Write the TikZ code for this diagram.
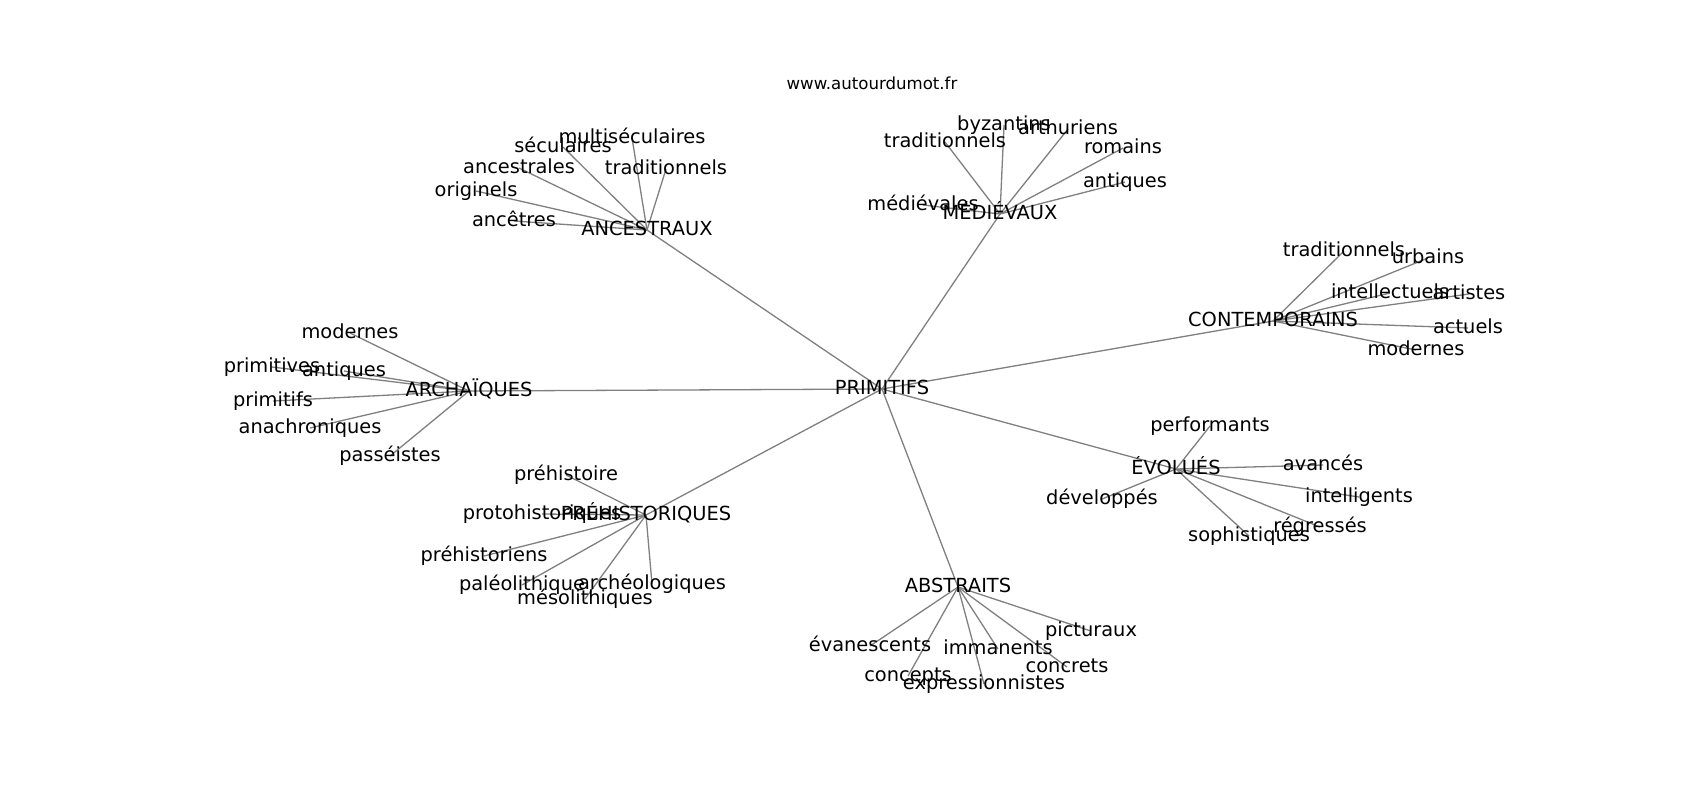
\documentclass[tikz,border=0pt]{standalone}
\usepackage{fontspec}
\setmainfont{DejaVu Sans}
\usetikzlibrary{backgrounds}
\tikzset{
  lbl/.style={inner sep=0pt, anchor=center, text height=0.76em, text depth=0.23em, font=\fontsize{9.7pt}{11pt}\selectfont},
  ttl/.style={inner sep=0pt, anchor=center, font=\fontsize{8.3pt}{10pt}\selectfont},
  edge/.style={draw=gray, line width=0.65pt}
}
\begin{document}
\begin{tikzpicture}[x=0.5pt,y=-0.5pt]
\useasboundingbox (0,0) rectangle (1700,800);
\node[ttl] (title) at (872,83) {www.autourdumot.fr};
% centre
\node[lbl] (P) at (882,389) {PRIMITIFS};
% hubs
\node[lbl] (ANC) at (647,230) {ANCESTRAUX};
\node[lbl] (MED) at (1000,214) {MÉDIÉVAUX};
\node[lbl] (CON) at (1273,321) {CONTEMPORAINS};
\node[lbl] (ARC) at (469,391) {ARCHAÏQUES};
\node[lbl] (PRE) at (646,515) {PRÉHISTORIQUES};
\node[lbl] (ABS) at (958,587) {ABSTRAITS};
\node[lbl] (EVO) at (1176,469) {ÉVOLUÉS};
% ancestraux
\node[lbl] (a1) at (632,138) {multiséculaires};
\node[lbl] (a2) at (563,147) {séculaires};
\node[lbl] (a3) at (519,168) {ancestrales};
\node[lbl] (a4) at (666,169) {traditionnels};
\node[lbl] (a5) at (476,191) {originels};
\node[lbl] (a6) at (514,221) {ancêtres};
% medievaux
\node[lbl] (m1) at (923,205) {médiévales};
\node[lbl] (m2) at (945,142) {traditionnels};
\node[lbl] (m3) at (1004,125) {byzantins};
\node[lbl] (m4) at (1068,129) {arthuriens};
\node[lbl] (m5) at (1123,148) {romains};
\node[lbl] (m6) at (1125,182) {antiques};
% contemporains
\node[lbl] (c1) at (1344,251) {traditionnels};
\node[lbl] (c2) at (1428,258) {urbains};
\node[lbl] (c3) at (1390,293) {intellectuels};
\node[lbl] (c4) at (1469,294) {artistes};
\node[lbl] (c5) at (1468,328) {actuels};
\node[lbl] (c6) at (1416,350) {modernes};
% archaiques
\node[lbl] (r1) at (350,333) {modernes};
\node[lbl] (r2) at (272,367) {primitives};
\node[lbl] (r3) at (344,371) {antiques};
\node[lbl] (r4) at (273,401) {primitifs};
\node[lbl] (r5) at (310,428) {anachroniques};
\node[lbl] (r6) at (390,456) {passéistes};
% prehistoriques
\node[lbl] (h1) at (566,475) {préhistoire};
\node[lbl] (h2) at (542,514) {protohistoriques};
\node[lbl] (h3) at (484,556) {préhistoriens};
\node[lbl] (h4) at (522,585) {paléolithique};
\node[lbl] (h5) at (652,584) {archéologiques};
\node[lbl] (h6) at (585,599) {mésolithiques};
% abstraits
\node[lbl] (b1) at (870,646) {évanescents};
\node[lbl] (b2) at (1091,631) {picturaux};
\node[lbl] (b3) at (998,649) {immanents};
\node[lbl] (b4) at (1067,667) {concrets};
\node[lbl] (b5) at (908,676) {concepts};
\node[lbl] (b6) at (984,684) {expressionnistes};
% evolues
\node[lbl] (e1) at (1210,426) {performants};
\node[lbl] (e2) at (1323,465) {avancés};
\node[lbl] (e3) at (1102,499) {développés};
\node[lbl] (e4) at (1359,497) {intelligents};
\node[lbl] (e5) at (1320,527) {régressés};
\node[lbl] (e6) at (1249,536) {sophistiques};
\begin{scope}[on background layer]
\fill[white] (0,0) rectangle (1700,800);
\foreach \h in {ANC,MED,CON,ARC,PRE,ABS,EVO}
  \draw[edge] (P.center) -- (\h.center);
\foreach \l in {a1,a2,a3,a4,a5,a6}
  \draw[edge] (ANC.center) -- (\l.center);
\foreach \l in {m1,m2,m3,m4,m5,m6}
  \draw[edge] (MED.center) -- (\l.center);
\foreach \l in {c1,c2,c3,c4,c5,c6}
  \draw[edge] (CON.center) -- (\l.center);
\foreach \l in {r1,r2,r3,r4,r5,r6}
  \draw[edge] (ARC.center) -- (\l.center);
\foreach \l in {h1,h2,h3,h4,h5,h6}
  \draw[edge] (PRE.center) -- (\l.center);
\foreach \l in {b1,b2,b3,b4,b5,b6}
  \draw[edge] (ABS.center) -- (\l.center);
\foreach \l in {e1,e2,e3,e4,e5,e6}
  \draw[edge] (EVO.center) -- (\l.center);
\end{scope}
\end{tikzpicture}
\end{document}
